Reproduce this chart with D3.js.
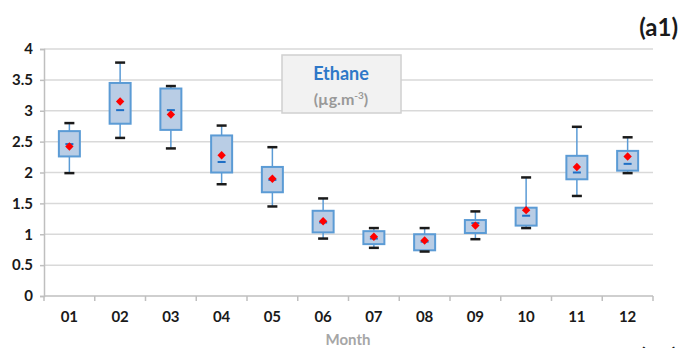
<!DOCTYPE html>
<html>
<head>
<meta charset="utf-8">
<script src="https://cdn.jsdelivr.net/npm/d3@7"></script>
<style>
body { margin: 0; background: #fff; }
svg { display: block; font-family: Lato, "Open Sans", sans-serif; }
</style>
</head>
<body>
<svg id="chart" width="680" height="348"></svg>
<script>
// month labels and box stats
var months = ["01","02","03","04","05","06","07","08","09","10","11","12"];
var whiskerLow  = [1.99, 2.56, 2.39, 1.81, 1.45, 0.93, 0.78, 0.72, 0.92, 1.10, 1.62, 1.99];
var boxLow      = [2.26, 2.79, 2.69, 2.00, 1.68, 1.03, 0.84, 0.74, 1.02, 1.14, 1.89, 2.03];
var medians     = [2.46, 3.01, 3.01, 2.17, 1.88, 1.19, 0.93, 0.88, 1.18, 1.30, 2.00, 2.14];
var boxHigh     = [2.67, 3.45, 3.36, 2.60, 2.09, 1.38, 1.05, 1.00, 1.23, 1.43, 2.27, 2.35];
var whiskerHigh = [2.80, 3.78, 3.40, 2.76, 2.41, 1.58, 1.10, 1.10, 1.37, 1.92, 2.74, 2.57];
var means       = [2.42, 3.15, 2.94, 2.28, 1.90, 1.21, 0.96, 0.90, 1.14, 1.39, 2.09, 2.26];
var yTicks = [0, 0.5, 1, 1.5, 2, 2.5, 3, 3.5, 4];

var data = months.map(function(m, i) {
  return {month: m, wlo: whiskerLow[i], q1: boxLow[i], med: medians[i],
          q3: boxHigh[i], whi: whiskerHigh[i], mean: means[i]};
});

var svg = d3.select("#chart");
var plotLeft = 44, plotRight = 653, plotTop = 49, plotBottom = 296;

var x = d3.scaleBand().domain(months).range([plotLeft, plotRight]);
var y = d3.scaleLinear().domain([0, 4]).range([plotBottom, plotTop]);

// gridlines
svg.append("g").selectAll("line")
    .data(yTicks.slice(1))
  .enter().append("line")
    .attr("x1", plotLeft).attr("x2", plotRight)
    .attr("y1", function(d) { return y(d); })
    .attr("y2", function(d) { return y(d); })
    .attr("stroke", "#d9d9d9")
    .attr("stroke-width", 1.5);

// y axis
var yAxis = svg.append("g")
    .attr("transform", "translate(" + plotLeft + ",0)")
    .call(d3.axisLeft(y).tickValues(yTicks).tickSize(4).tickPadding(7)
      .tickFormat(function(d) { return d; }));
yAxis.select(".domain").attr("stroke", "#bfbfbf").attr("stroke-width", 1.5);
yAxis.selectAll(".tick line").attr("stroke", "#bfbfbf").attr("stroke-width", 1.5);
yAxis.selectAll("text")
    .attr("font-size", 15).attr("font-weight", "bold").attr("fill", "#1a1a1a")
    .attr("font-family", "Lato, sans-serif");

// x axis line and ticks between categories
svg.append("line")
    .attr("x1", plotLeft).attr("x2", plotRight)
    .attr("y1", plotBottom).attr("y2", plotBottom)
    .attr("stroke", "#bfbfbf").attr("stroke-width", 1.5);
svg.append("g").selectAll("line")
    .data(months.concat(["end"]))
  .enter().append("line")
    .attr("x1", function(d, i) { return plotLeft + i * x.bandwidth(); })
    .attr("x2", function(d, i) { return plotLeft + i * x.bandwidth(); })
    .attr("y1", plotBottom).attr("y2", plotBottom + 5)
    .attr("stroke", "#bfbfbf").attr("stroke-width", 1.5);

svg.append("g").selectAll("text")
    .data(months)
  .enter().append("text")
    .attr("x", function(d) { return x(d) + x.bandwidth() / 2; })
    .attr("y", 322)
    .attr("text-anchor", "middle")
    .attr("font-size", 15).attr("font-weight", "bold").attr("fill", "#1a1a1a")
    .text(function(d) { return d; });

svg.append("text")
    .attr("x", 348).attr("y", 345)
    .attr("text-anchor", "middle")
    .attr("font-size", 15).attr("font-weight", "bold").attr("fill", "#a6a6a6")
    .text("Month");

// boxes
var bw = 21, cap = 10;
var g = svg.append("g").selectAll("g")
    .data(data)
  .enter().append("g")
    .attr("transform", function(d) { return "translate(" + (x(d.month) + x.bandwidth() / 2) + ",0)"; });

g.append("line")
    .attr("x1", 0).attr("x2", 0)
    .attr("y1", function(d) { return y(d.whi); })
    .attr("y2", function(d) { return y(d.wlo); })
    .attr("stroke", "#5b9bd5").attr("stroke-width", 1.5);

g.append("rect")
    .attr("x", -bw / 2).attr("width", bw)
    .attr("y", function(d) { return y(d.q3); })
    .attr("height", function(d) { return y(d.q1) - y(d.q3); })
    .attr("fill", "#b9cde5")
    .attr("stroke", "#5b9bd5").attr("stroke-width", 2);

g.append("line")
    .attr("x1", -4).attr("x2", 4)
    .attr("y1", function(d) { return y(d.med); })
    .attr("y2", function(d) { return y(d.med); })
    .attr("stroke", "#1f6fc5").attr("stroke-width", 2);

g.selectAll(".cap")
    .data(function(d) { return [d.whi, d.wlo]; })
  .enter().append("line")
    .attr("class", "cap")
    .attr("x1", -cap / 2).attr("x2", cap / 2)
    .attr("y1", function(v) { return y(v); })
    .attr("y2", function(v) { return y(v); })
    .attr("stroke", "#1a1a1a").attr("stroke-width", 2.5);

g.append("path")
    .attr("d", d3.symbol().type(d3.symbolDiamond2).size(45))
    .attr("transform", function(d) { return "translate(0," + y(d.mean) + ")"; })
    .attr("fill", "#ff0000");

// title box
svg.append("rect")
    .attr("x", 282).attr("y", 55).attr("width", 119).attr("height", 58)
    .attr("fill", "#f2f2f2").attr("stroke", "#d0d0d0").attr("stroke-width", 1.5);
svg.append("text")
    .attr("x", 341).attr("y", 80)
    .attr("text-anchor", "middle")
    .attr("font-size", 18).attr("font-weight", "bold").attr("fill", "#2e78c8")
    .text("Ethane");
var unit = svg.append("text")
    .attr("x", 341).attr("y", 105)
    .attr("text-anchor", "middle")
    .attr("font-size", 16).attr("font-weight", "bold").attr("fill", "#999999");
unit.append("tspan").text("(µg.m");
unit.append("tspan").attr("dy", -6).attr("font-size", 10).text("-3");
unit.append("tspan").attr("dy", 6).text(")");

// panel labels
svg.append("text")
    .attr("x", 678).attr("y", 36)
    .attr("text-anchor", "end")
    .attr("font-size", 24).attr("font-weight", "bold").attr("fill", "#1a1a1a")
    .text("(a1)");
svg.append("text")
    .attr("x", 678).attr("y", 366)
    .attr("text-anchor", "end")
    .attr("font-size", 24).attr("font-weight", "bold").attr("fill", "#1a1a1a")
    .text("(a2)");
</script>
</body>
</html>
